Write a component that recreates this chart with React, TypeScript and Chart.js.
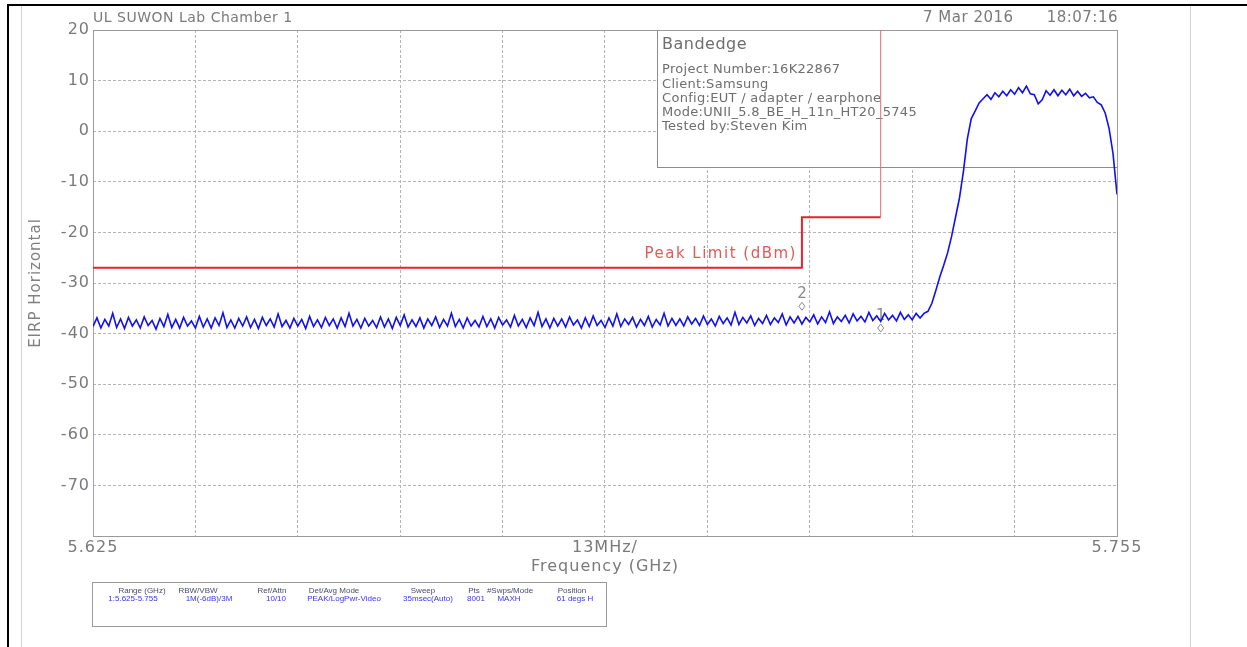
import React, { useEffect, useRef } from 'react';
import { Chart, registerables } from 'chart.js';

Chart.register(...registerables);

// ---- sweep definition (analyzer frequency grid) ----
const SWEEP_START_GHZ = 5.625;
const SWEEP_STOP_GHZ = 5.755;
const SWEEP_STEP_GHZ = 0.0005;
const X_STEP_GHZ = 0.013;
const X_TICK_LABELS = ['5.625', '', '', '', '', '13MHz/', '', '', '', '', '5.755'];
const Y_MIN = -80;
const Y_MAX = 20;
const Y_STEP = 10;

// ---- trace values (dBm) ----
const noiseFloorDbm = [
  -38.6, -36.9, -38.9, -37.2, -38.5, -36.0, -38.8, -37.1, -39.0, -36.8,
  -38.5, -37.3, -38.9, -36.7, -38.4, -37.4, -39.1, -37.0, -38.6, -36.2,
  -38.8, -37.2, -38.9, -36.8, -38.5, -37.5, -38.9, -36.6, -38.7, -37.1,
  -38.9, -36.9, -38.4, -35.9, -38.8, -37.3, -38.9, -37.0, -38.5, -36.7,
  -38.8, -37.2, -39.0, -36.8, -38.4, -37.1, -38.7, -36.1, -38.6, -37.4,
  -38.9, -37.0, -38.5, -37.2, -39.0, -36.6, -38.6, -37.3, -38.8, -36.8,
  -38.4, -37.1, -38.9, -36.9, -38.6, -36.0, -38.5, -37.2, -38.9, -37.0,
  -38.5, -37.4, -38.8, -36.7, -38.7, -37.1, -39.0, -36.8, -38.4, -36.3,
  -38.7, -37.3, -38.6, -36.9, -38.9, -37.1, -38.4, -36.7, -38.8, -37.2,
  -38.5, -36.0, -38.6, -37.2, -38.9, -36.9, -38.5, -37.4, -38.7, -36.6,
  -38.6, -37.1, -38.9, -36.8, -38.3, -37.3, -38.7, -36.4, -38.5, -37.2,
  -38.8, -36.9, -38.4, -35.8, -38.6, -37.1, -38.9, -37.0, -38.5, -37.1,
  -38.7, -36.7, -38.3, -37.3, -38.9, -36.9, -38.6, -36.5, -38.4, -37.4,
  -38.8, -36.9, -38.5, -36.1, -38.6, -37.1, -38.2, -36.8, -38.7, -37.2,
  -38.4, -36.6, -38.7, -37.2, -38.3, -36.0, -38.5, -37.0, -38.4, -37.1,
  -38.5, -36.7, -38.1, -37.0, -38.4, -36.5, -38.2, -37.1, -38.5, -36.6,
  -38.0, -36.9, -38.3, -35.8, -38.2, -36.8, -37.9, -36.5, -38.4, -37.0,
  -38.0, -36.4, -38.2, -36.9, -37.8, -36.1, -38.3, -36.7, -37.9, -36.6,
  -38.1, -36.8, -37.7, -36.3, -38.1, -36.7, -37.8, -35.7, -38.0, -36.7,
  -37.6, -36.4, -37.9, -36.1, -37.5, -36.6, -37.7, -35.8, -37.4, -36.5,
  -37.6, -36.0, -37.3, -36.4, -37.5, -35.8, -37.2, -36.3, -37.3, -36.0, -36.9,
];
const riseDbm = [-36.0, -35.6, -34.0, -31.5, -28.8, -26.5, -24.0, -20.8, -17.0, -13.2, -8.0, -1.5, 2.5];
const channelDbm = [
  4.0, 5.6, 6.4, 7.2, 6.3, 7.6, 6.8, 7.9, 7.0, 8.2,
  7.3, 8.6, 7.6, 8.9, 7.4, 7.2, 5.4, 6.2, 8.0, 7.1,
  8.2, 7.0, 8.1, 7.2, 8.3, 7.0, 7.9, 6.9, 7.5, 6.6,
  6.8, 5.7, 5.2, 3.6, 0.5, -4.5, -12.5,
];
const traceDbm = [...noiseFloorDbm, ...riseDbm, ...channelDbm];

// start of sweep (trace comes up from the bottom edge)
const sweepStartFreqGHz = [5.625, 5.625];
const sweepStartDbm = [-80, -38.2];

// ---- limit line ----
const limitFreqGHz = [5.625, 5.715, 5.715, 5.725, 5.725];
const limitDbm = [-27, -27, -17, -17, 20];
const LIMIT_LABEL = 'Peak Limit (dBm)';

// ---- markers ----
const markerNames = ['1', '2'];
const markerFreqGHz = [5.725, 5.715];
const markerDbm = [-38.9, -34.6];

// ---- texts ----
const TITLE_LEFT = 'UL SUWON Lab Chamber 1';
const TITLE_DATE = '7 Mar 2016';
const TITLE_TIME = '18:07:16';
const INFO_TITLE = 'Bandedge';
const infoLines = [
  'Project Number:16K22867',
  'Client:Samsung',
  'Config:EUT / adapter / earphone',
  'Mode:UNII_5.8_BE_H_11n_HT20_5745',
  'Tested by:Steven Kim',
];
const tableHeaders = ['Range (GHz)', 'RBW/VBW', 'Ref/Attn', 'Det/Avg Mode', 'Sweep', 'Pts', '#Swps/Mode', 'Position'];
const tableValues = ['1:5.625-5.755', '1M(-6dB)/3M', '10/10', 'PEAK/LogPwr-Video', '35msec(Auto)', '8001', 'MAXH', '61 degs H'];
const Y_TITLE = 'EIRP Horizontal';
const X_TITLE = 'Frequency (GHz)';

// ---- drawing styles ----
const GREY = '#7a7a7a';
const FONT = "'DejaVu Sans', sans-serif";
const headerCenters = [142, 198, 272, 334, 423, 474, 510, 572];
const valueCenters = [133, 209, 276, 344, 428, 476, 509, 575];

function txt(
  ctx: CanvasRenderingContext2D,
  s: string,
  x: number,
  y: number,
  font: string,
  color: string,
  align: CanvasTextAlign = 'left',
  spacing = '0px'
) {
  ctx.save();
  ctx.font = font;
  ctx.fillStyle = color;
  ctx.textAlign = align;
  ctx.textBaseline = 'middle';
  (ctx as any).letterSpacing = spacing;
  ctx.fillText(s, x, y);
  ctx.restore();
}

const overlayPlugin = {
  id: 'overlay',
  beforeDraw(chart: any) {
    const ctx = chart.ctx as CanvasRenderingContext2D;
    (ctx as any).letterSpacing = '1px';
  },
  beforeDatasetsDraw(chart: any) {
    const ctx = chart.ctx as CanvasRenderingContext2D;
    const a = chart.chartArea;
    const xs = chart.scales.x;
    const ys = chart.scales.y;
    // info box
    const bx = 657;
    const by = Math.round(a.top);
    const bw = Math.round(a.right) - bx;
    const bh = 167 - by;
    ctx.save();
    ctx.fillStyle = '#ffffff';
    ctx.fillRect(bx, by, bw, bh);
    ctx.strokeStyle = '#8c8c8c';
    ctx.lineWidth = 1;
    ctx.strokeRect(bx + 0.5, by + 0.5, bw, bh);
    ctx.restore();
    txt(ctx, INFO_TITLE, 662, 45, `16px ${FONT}`, '#6e6e6e', 'left', '0.5px');
    infoLines.forEach((l, i) => {
      txt(ctx, l, 662, 70 + i * 14.25, `13px ${FONT}`, '#6e6e6e', 'left', '0.3px');
    });
    // plot frame
    ctx.save();
    ctx.strokeStyle = '#9a9a9a';
    ctx.lineWidth = 1;
    ctx.strokeRect(Math.round(a.left) + 0.5, Math.round(a.top) + 0.5, Math.round(a.right - a.left), Math.round(a.bottom - a.top));
    ctx.restore();
    // markers
    markerNames.forEach((m, i) => {
      const px = xs.getPixelForValue(markerFreqGHz[i]);
      const py = ys.getPixelForValue(markerDbm[i]);
      ctx.save();
      ctx.strokeStyle = '#8a8a8a';
      ctx.lineWidth = 1;
      ctx.beginPath();
      ctx.moveTo(px, py - 4);
      ctx.lineTo(px + 3, py);
      ctx.lineTo(px, py + 4);
      ctx.lineTo(px - 3, py);
      ctx.closePath();
      ctx.stroke();
      ctx.restore();
      txt(ctx, m, px, py - 12, `15px ${FONT}`, '#8a8a8a', 'center', '0px');
    });
    // limit label
    const lx = xs.getPixelForValue(limitFreqGHz[1]) - 5;
    const ly = ys.getPixelForValue(limitDbm[0]) - 14;
    txt(ctx, LIMIT_LABEL, lx, ly, `15px ${FONT}`, '#e05a5a', 'right', '1.5px');
  },
  afterDraw(chart: any) {
    const ctx = chart.ctx as CanvasRenderingContext2D;
    const a = chart.chartArea;
    // titles
    txt(ctx, TITLE_LEFT, a.left, 18, `14px ${FONT}`, GREY, 'left', '0.5px');
    txt(ctx, TITLE_DATE, 923, 18, `15px ${FONT}`, GREY, 'left', '0.5px');
    txt(ctx, TITLE_TIME, a.right + 1, 18, `15px ${FONT}`, GREY, 'right', '0.5px');
    // page frame
    ctx.save();
    ctx.fillStyle = '#000000';
    ctx.fillRect(7, 4, 2, 643);
    ctx.fillRect(7, 4, 1240, 2);
    ctx.fillStyle = '#d2d2d2';
    ctx.fillRect(21, 6, 1, 641);
    ctx.fillRect(1190, 6, 1, 641);
    // table box
    ctx.strokeStyle = '#9a9a9a';
    ctx.lineWidth = 1;
    ctx.strokeRect(92.5, 582.5, 514, 44);
    ctx.restore();
    tableHeaders.forEach((h, i) => {
      txt(ctx, h, headerCenters[i], 591, "8px 'Liberation Sans', sans-serif", '#4a4a6a', 'center', '0px');
    });
    tableValues.forEach((v, i) => {
      txt(ctx, v, valueCenters[i], 599, "8px 'Liberation Sans', sans-serif", '#3535ff', 'center', '0px');
    });
  },
};

export default function App() {
  const ref = useRef<HTMLCanvasElement | null>(null);

  useEffect(() => {
    if (!ref.current) return;
    Chart.defaults.font.family = FONT;
    const traceData = traceDbm.map((v, i) => ({ x: SWEEP_START_GHZ + i * SWEEP_STEP_GHZ, y: v }));
    const limitData = limitFreqGHz.map((f, i) => ({ x: f, y: limitDbm[i] }));
    const startData = sweepStartFreqGHz.map((f, i) => ({ x: f, y: sweepStartDbm[i] }));

    const chart = new Chart(ref.current, {
      type: 'line',
      data: {
        datasets: [
          {
            label: 'Trace',
            data: traceData,
            borderColor: '#1010f0',
            borderWidth: 1.6,
            pointRadius: 0,
            tension: 0,
            order: 1,
          },
          {
            label: 'Start',
            data: startData,
            borderColor: '#9b9bff',
            borderWidth: 1,
            pointRadius: 0,
            order: 2,
          },
          {
            label: 'Peak Limit',
            data: limitData,
            borderColor: '#e4242c',
            borderWidth: 2,
            pointRadius: 0,
            tension: 0,
            order: 3,
            segment: {
              borderWidth: (c: any) => (c.p0DataIndex === 3 ? 1 : 2),
              borderColor: (c: any) => (c.p0DataIndex === 3 ? '#e46a70' : '#e4242c'),
            },
          } as any,
        ],
      },
      options: {
        responsive: false,
        animation: false,
        layout: { padding: { left: 0, top: 30, right: 130, bottom: 0 } },
        plugins: {
          legend: { display: false },
          tooltip: { enabled: false },
        },
        scales: {
          x: {
            type: 'linear',
            min: SWEEP_START_GHZ,
            max: SWEEP_STOP_GHZ,
            afterFit: (s: any) => {
              s.height = 111;
            },
            ticks: {
              stepSize: X_STEP_GHZ,
              autoSkip: false,
              maxRotation: 0,
              padding: 2,
              color: GREY,
              font: { size: 16 },
              callback: (_v: any, i: number) => X_TICK_LABELS[i] ?? '',
            },
            grid: {
              color: '#b5b5b5',
              lineWidth: 1,
              drawTicks: false,
            },
            border: { display: false, dash: [3, 2] },
            title: {
              display: true,
              text: X_TITLE,
              color: GREY,
              font: { size: 16 },
              padding: { top: 0, bottom: 71 },
            },
          },
          y: {
            type: 'linear',
            min: Y_MIN,
            max: Y_MAX,
            afterFit: (s: any) => {
              s.width = 93;
            },
            ticks: {
              stepSize: Y_STEP,
              padding: 3,
              color: GREY,
              font: { size: 16 },
              callback: (v: any) => (Number(v) === Y_MIN ? '' : String(v)),
            },
            grid: {
              color: '#b5b5b5',
              lineWidth: 1,
              drawTicks: false,
            },
            border: { display: false, dash: [3, 2] },
            title: {
              display: true,
              text: Y_TITLE,
              color: '#808080',
              font: { size: 15 },
              padding: { top: 27, bottom: 0 },
            },
          },
        },
      },
      plugins: [overlayPlugin],
    } as any);

    return () => chart.destroy();
  }, []);

  return (
    <div style={{ position: 'absolute', left: 0, top: 0, width: 1247, height: 647, background: '#fff' }}>
      <canvas ref={ref} width={1247} height={647} style={{ display: 'block' }} />
    </div>
  );
}
